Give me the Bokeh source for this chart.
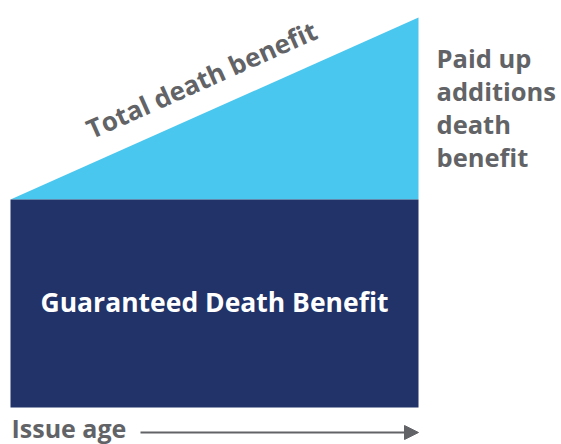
import math
from bokeh.plotting import figure
from bokeh.models import Range1d, Label, Arrow, NormalHead
from bokeh.embed import file_html
from bokeh.resources import INLINE

# ---- data (normalized) ----
ages = [0.0, 1.0]                 # issue age -> later age
guaranteed = [1.0, 1.0]           # guaranteed death benefit (flat)
total = [1.0, 1.875]              # total death benefit (grows with paid-up additions)
zero = [0.0, 0.0]

rect_label = "Guaranteed Death Benefit"
slope_label = "Total death benefit"
side_label = ["Paid up", "additions", "death", "benefit"]
axis_label = "Issue age"

NAVY = "#213368"
SKY = "#4AC7EE"
GRAY = "#626366"
FONT = "Open Sans"

W, H = 561, 444
OX, OY = 0, 0   # canvas origin in picture pixels
# pixel mapping: picture x 10 -> 0, 418 -> 1 ; picture y 407 -> 0, 199 -> 1
px_x = 408.0
px_y = 208.0
x0 = (OX - 10) / px_x
x1 = (OX + W - 10) / px_x
y1 = (407 - OY) / px_y
y0 = (407 - (OY + H)) / px_y


def dy(py):
    return (407 - py) / px_y


def dx(px):
    return (px - 10) / px_x


p = figure(width=W, height=H, output_backend="svg", toolbar_location=None,
           x_range=Range1d(x0, x1), y_range=Range1d(y0, y1),
           min_border=0, outline_line_color=None)
p.axis.visible = False
p.grid.visible = False
p.background_fill_color = "white"
p.border_fill_color = "white"

p.varea(x=ages, y1=guaranteed, y2=total, fill_color=SKY)
p.varea(x=ages, y1=zero, y2=guaranteed, fill_color=NAVY)

# labels
p.add_layout(Label(x=dx(214), y=dy(301), text=rect_label, text_color="white",
                   text_font=FONT, text_font_style="bold", text_font_size="26.5px",
                   text_align="center", text_baseline="middle"))

ang = math.atan((total[1] - total[0]) * px_y / ((ages[1] - ages[0]) * px_x))
p.add_layout(Label(x=dx(201), y=dy(79), text=slope_label, text_color=GRAY,
                   text_font=FONT, text_font_style="bold", text_font_size="26px",
                   text_align="center", text_baseline="middle", angle=ang))

base = [68, 101, 134, 167]
for t, b in zip(side_label, base):
    p.add_layout(Label(x=dx(436), y=dy(b - 11), text=t,
                       text_color=GRAY, text_font=FONT, text_font_style="bold",
                       text_font_size="25.5px", text_align="left", text_baseline="alphabetic"))

p.add_layout(Label(x=dx(11), y=dy(439 - 12), text=axis_label, text_color=GRAY,
                   text_font=FONT, text_font_style="bold", text_font_size="25px",
                   text_align="left", text_baseline="alphabetic"))

ay = dy(432)
p.add_layout(Arrow(x_start=dx(140), y_start=ay, x_end=1.0, y_end=ay,
                   line_color=GRAY, line_width=2,
                   end=NormalHead(size=14, fill_color=GRAY, line_color=GRAY)))

open("out.html", "w").write(file_html(p, INLINE))
